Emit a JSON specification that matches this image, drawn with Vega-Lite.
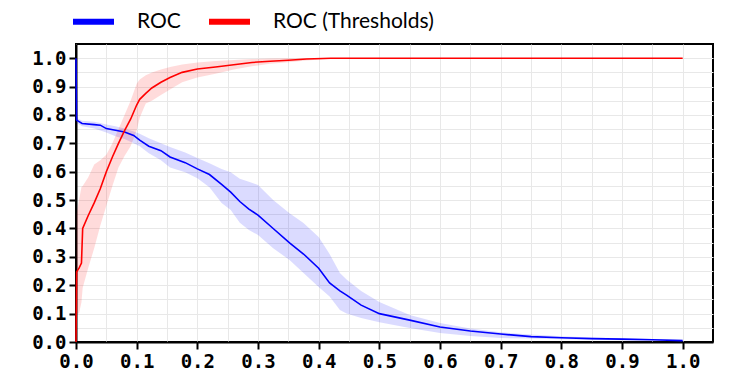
{
  "$schema": "https://vega.github.io/schema/vega-lite/v6.json",
  "width": 637,
  "height": 298,
  "autosize": {"type": "none"},
  "padding": {"left": 76, "top": 44, "right": 24, "bottom": 45},
  "background": "white",
  "config": {
    "view": {"stroke": "black", "strokeWidth": 2},
    "axis": {
      "domainColor": "black", "domainWidth": 2,
      "tickColor": "black", "tickWidth": 2, "tickSize": 7,
      "labelFont": "DejaVu Sans Mono", "labelFontWeight": "bold", "labelFontSize": 19, "labelColor": "black",
      "gridColor": "#e8e8e8", "gridWidth": 1, "labelPadding": 3, "title": null
    },
    "legend": {
      "orient": "none", "legendX": -6, "legendY": -46, "direction": "horizontal",
      "symbolType": "stroke", "symbolSize": 1681, "symbolStrokeWidth": 6, "symbolOpacity": 1,
      "labelFont": "Lato", "labelFontSize": 21, "labelColor": "black", "labelLimit": 400,
      "labelOffset": 20, "columnPadding": 16, "padding": 0, "title": null
    }
  },
  "data": {"values": [
    {"series": "ROC", "x": 0, "y": 1.0, "lo": 0.785, "hi": 0.785},
    {"series": "ROC", "x": 0.001, "y": 0.782, "lo": 0.772, "hi": 0.79},
    {"series": "ROC", "x": 0.01, "y": 0.77, "lo": 0.76, "hi": 0.78},
    {"series": "ROC", "x": 0.03, "y": 0.766, "lo": 0.752, "hi": 0.776},
    {"series": "ROC", "x": 0.04, "y": 0.764, "lo": 0.745, "hi": 0.772},
    {"series": "ROC", "x": 0.05, "y": 0.752, "lo": 0.738, "hi": 0.766},
    {"series": "ROC", "x": 0.065, "y": 0.746, "lo": 0.725, "hi": 0.76},
    {"series": "ROC", "x": 0.08, "y": 0.74, "lo": 0.715, "hi": 0.752},
    {"series": "ROC", "x": 0.095, "y": 0.728, "lo": 0.7, "hi": 0.742},
    {"series": "ROC", "x": 0.105, "y": 0.711, "lo": 0.69, "hi": 0.734},
    {"series": "ROC", "x": 0.12, "y": 0.69, "lo": 0.665, "hi": 0.718},
    {"series": "ROC", "x": 0.14, "y": 0.674, "lo": 0.64, "hi": 0.7},
    {"series": "ROC", "x": 0.155, "y": 0.652, "lo": 0.615, "hi": 0.687},
    {"series": "ROC", "x": 0.18, "y": 0.632, "lo": 0.598, "hi": 0.668},
    {"series": "ROC", "x": 0.2, "y": 0.61, "lo": 0.577, "hi": 0.648},
    {"series": "ROC", "x": 0.22, "y": 0.59, "lo": 0.545, "hi": 0.63},
    {"series": "ROC", "x": 0.24, "y": 0.555, "lo": 0.49, "hi": 0.61},
    {"series": "ROC", "x": 0.255, "y": 0.528, "lo": 0.465, "hi": 0.598},
    {"series": "ROC", "x": 0.27, "y": 0.495, "lo": 0.42, "hi": 0.575},
    {"series": "ROC", "x": 0.285, "y": 0.468, "lo": 0.395, "hi": 0.565},
    {"series": "ROC", "x": 0.3, "y": 0.447, "lo": 0.377, "hi": 0.553},
    {"series": "ROC", "x": 0.325, "y": 0.4, "lo": 0.33, "hi": 0.5},
    {"series": "ROC", "x": 0.352, "y": 0.349, "lo": 0.289, "hi": 0.454},
    {"series": "ROC", "x": 0.375, "y": 0.31, "lo": 0.243, "hi": 0.419},
    {"series": "ROC", "x": 0.4, "y": 0.26, "lo": 0.194, "hi": 0.37},
    {"series": "ROC", "x": 0.418, "y": 0.208, "lo": 0.16, "hi": 0.31},
    {"series": "ROC", "x": 0.435, "y": 0.18, "lo": 0.113, "hi": 0.243},
    {"series": "ROC", "x": 0.446, "y": 0.165, "lo": 0.1, "hi": 0.22},
    {"series": "ROC", "x": 0.47, "y": 0.13, "lo": 0.085, "hi": 0.18},
    {"series": "ROC", "x": 0.5, "y": 0.1, "lo": 0.07, "hi": 0.141},
    {"series": "ROC", "x": 0.55, "y": 0.077, "lo": 0.049, "hi": 0.095},
    {"series": "ROC", "x": 0.6, "y": 0.053, "lo": 0.032, "hi": 0.067},
    {"series": "ROC", "x": 0.65, "y": 0.039, "lo": 0.021, "hi": 0.048},
    {"series": "ROC", "x": 0.7, "y": 0.028, "lo": 0.014, "hi": 0.034},
    {"series": "ROC", "x": 0.75, "y": 0.019, "lo": 0.012, "hi": 0.026},
    {"series": "ROC", "x": 0.8, "y": 0.015, "lo": 0.01, "hi": 0.02},
    {"series": "ROC", "x": 0.85, "y": 0.012, "lo": 0.008, "hi": 0.016},
    {"series": "ROC", "x": 0.9, "y": 0.01, "lo": 0.006, "hi": 0.013},
    {"series": "ROC", "x": 0.95, "y": 0.008, "lo": 0.005, "hi": 0.011},
    {"series": "ROC", "x": 1.0, "y": 0.005, "lo": 0.003, "hi": 0.008},
    {"series": "ROC (Thresholds)", "x": 0, "y": 0, "lo": 0, "hi": 0.1},
    {"series": "ROC (Thresholds)", "x": 0.001, "y": 0.247, "lo": 0.1, "hi": 0.45},
    {"series": "ROC (Thresholds)", "x": 0.005, "y": 0.26, "lo": 0.1, "hi": 0.5},
    {"series": "ROC (Thresholds)", "x": 0.009, "y": 0.278, "lo": 0.14, "hi": 0.546},
    {"series": "ROC (Thresholds)", "x": 0.011, "y": 0.4, "lo": 0.19, "hi": 0.55},
    {"series": "ROC (Thresholds)", "x": 0.02, "y": 0.445, "lo": 0.26, "hi": 0.58},
    {"series": "ROC (Thresholds)", "x": 0.03, "y": 0.49, "lo": 0.33, "hi": 0.625},
    {"series": "ROC (Thresholds)", "x": 0.04, "y": 0.54, "lo": 0.41, "hi": 0.64},
    {"series": "ROC (Thresholds)", "x": 0.05, "y": 0.6, "lo": 0.48, "hi": 0.66},
    {"series": "ROC (Thresholds)", "x": 0.06, "y": 0.652, "lo": 0.55, "hi": 0.7},
    {"series": "ROC (Thresholds)", "x": 0.07, "y": 0.7, "lo": 0.615, "hi": 0.75},
    {"series": "ROC (Thresholds)", "x": 0.08, "y": 0.745, "lo": 0.655, "hi": 0.8},
    {"series": "ROC (Thresholds)", "x": 0.09, "y": 0.785, "lo": 0.69, "hi": 0.85},
    {"series": "ROC (Thresholds)", "x": 0.1, "y": 0.835, "lo": 0.745, "hi": 0.91},
    {"series": "ROC (Thresholds)", "x": 0.105, "y": 0.855, "lo": 0.79, "hi": 0.925},
    {"series": "ROC (Thresholds)", "x": 0.115, "y": 0.876, "lo": 0.84, "hi": 0.94},
    {"series": "ROC (Thresholds)", "x": 0.125, "y": 0.895, "lo": 0.85, "hi": 0.95},
    {"series": "ROC (Thresholds)", "x": 0.14, "y": 0.915, "lo": 0.87, "hi": 0.96},
    {"series": "ROC (Thresholds)", "x": 0.155, "y": 0.932, "lo": 0.89, "hi": 0.969},
    {"series": "ROC (Thresholds)", "x": 0.175, "y": 0.95, "lo": 0.915, "hi": 0.978},
    {"series": "ROC (Thresholds)", "x": 0.2, "y": 0.962, "lo": 0.932, "hi": 0.985},
    {"series": "ROC (Thresholds)", "x": 0.23, "y": 0.969, "lo": 0.945, "hi": 0.99},
    {"series": "ROC (Thresholds)", "x": 0.26, "y": 0.977, "lo": 0.96, "hi": 0.994},
    {"series": "ROC (Thresholds)", "x": 0.29, "y": 0.985, "lo": 0.972, "hi": 0.997},
    {"series": "ROC (Thresholds)", "x": 0.32, "y": 0.989, "lo": 0.98, "hi": 0.999},
    {"series": "ROC (Thresholds)", "x": 0.35, "y": 0.993, "lo": 0.986, "hi": 1.0},
    {"series": "ROC (Thresholds)", "x": 0.38, "y": 0.997, "lo": 0.992, "hi": 1.0},
    {"series": "ROC (Thresholds)", "x": 0.42, "y": 1.0, "lo": 0.998, "hi": 1.0},
    {"series": "ROC (Thresholds)", "x": 0.45, "y": 1.0, "lo": 1.0, "hi": 1.0},
    {"series": "ROC (Thresholds)", "x": 1.0, "y": 1.0, "lo": 1.0, "hi": 1.0}
  ]},
  "encoding": {
    "x": {
      "field": "x", "type": "quantitative",
      "scale": {"domain": [0, 1.05], "nice": false, "zero": false},
      "axis": {
        "values": [0, 0.05, 0.1, 0.15, 0.2, 0.25, 0.3, 0.35, 0.4, 0.45, 0.5, 0.55, 0.6, 0.65, 0.7, 0.75, 0.8, 0.85, 0.9, 0.95, 1.0],
        "labelExpr": "round(datum.value*20) % 2 == 0 ? format(datum.value, '.1f') : ''",
        "tickOpacity": {"condition": {"test": "round(datum.value*20) % 2 == 1", "value": 0}, "value": 1},
        "labelFlush": false, "labelOverlap": false
      }
    },
    "color": {
      "field": "series", "type": "nominal",
      "scale": {"domain": ["ROC", "ROC (Thresholds)"], "range": ["#0000ff", "#ff0000"]}
    }
  },
  "layer": [
    {
      "mark": {"type": "area", "fillOpacity": 0.14},
      "encoding": {
        "y": {"field": "lo", "type": "quantitative",
          "scale": {"domain": [0, 1.05], "nice": false, "zero": false},
          "axis": {
            "values": [0, 0.05, 0.1, 0.15, 0.2, 0.25, 0.3, 0.35, 0.4, 0.45, 0.5, 0.55, 0.6, 0.65, 0.7, 0.75, 0.8, 0.85, 0.9, 0.95, 1.0],
            "labelExpr": "round(datum.value*20) % 2 == 0 ? format(datum.value, '.1f') : ''",
            "tickOpacity": {"condition": {"test": "round(datum.value*20) % 2 == 1", "value": 0}, "value": 1},
            "labelFlush": false, "labelOverlap": false
          }
        },
        "y2": {"field": "hi"}
      }
    },
    {
      "mark": {"type": "line", "strokeWidth": 1.6},
      "encoding": {
        "y": {"field": "y", "type": "quantitative",
          "scale": {"domain": [0, 1.05], "nice": false, "zero": false},
          "axis": {
            "values": [0, 0.05, 0.1, 0.15, 0.2, 0.25, 0.3, 0.35, 0.4, 0.45, 0.5, 0.55, 0.6, 0.65, 0.7, 0.75, 0.8, 0.85, 0.9, 0.95, 1.0],
            "labelExpr": "round(datum.value*20) % 2 == 0 ? format(datum.value, '.1f') : ''",
            "tickOpacity": {"condition": {"test": "round(datum.value*20) % 2 == 1", "value": 0}, "value": 1},
            "labelFlush": false, "labelOverlap": false
          }
        }
      }
    }
  ]
}
